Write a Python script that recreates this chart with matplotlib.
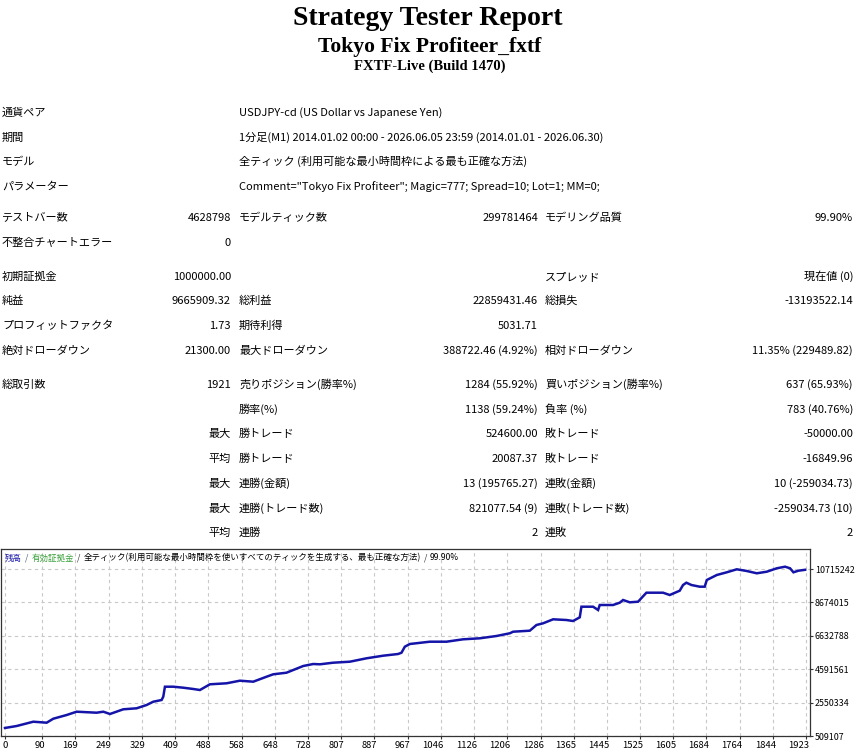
import matplotlib
matplotlib.use("Agg")
import matplotlib.pyplot as plt
from matplotlib.transforms import ScaledTranslation

plt.rcParams['font.family'] = ['Noto Sans CJK JP', 'DejaVu Sans']

W, H = 856, 754

# ---- header ----
title = "Strategy Tester Report"
ea_name = "Tokyo Fix Profiteer_fxtf"
server = "FXTF-Live (Build 1470)"

# ---- settings ----
setting_labels = ["通貨ペア", "期間", "モデル", "パラメーター"]
setting_values = [
    "USDJPY-cd (US Dollar vs Japanese Yen)",
    "1分足(M1) 2014.01.02 00:00 - 2026.06.05 23:59 (2014.01.01 - 2026.06.30)",
    "全ティック (利用可能な最小時間枠による最も正確な方法)",
    'Comment="Tokyo Fix Profiteer"; Magic=777; Spread=10; Lot=1; MM=0;',
]

# ---- results (label1, value1, label2, value2, label3, value3) ----
stats_rows = [
    ["テストバー数", "4628798", "モデルティック数", "299781464", "モデリング品質", "99.90%"],
    ["不整合チャートエラー", "0", "", "", "", ""],
    ["初期証拠金", "1000000.00", "", "", "スプレッド", "現在値 (0)"],
    ["純益", "9665909.32", "総利益", "22859431.46", "総損失", "-13193522.14"],
    ["プロフィットファクタ", "1.73", "期待利得", "5031.71", "", ""],
    ["絶対ドローダウン", "21300.00", "最大ドローダウン", "388722.46 (4.92%)", "相対ドローダウン", "11.35% (229489.82)"],
    ["総取引数", "1921", "売りポジション(勝率%)", "1284 (55.92%)", "買いポジション(勝率%)", "637 (65.93%)"],
    ["", "", "勝率(%)", "1138 (59.24%)", "負率 (%)", "783 (40.76%)"],
    ["", "最大", "勝トレード", "524600.00", "敗トレード", "-50000.00"],
    ["", "平均", "勝トレード", "20087.37", "敗トレード", "-16849.96"],
    ["", "最大", "連勝(金額)", "13 (195765.27)", "連敗(金額)", "10 (-259034.73)"],
    ["", "最大", "連勝(トレード数)", "821077.54 (9)", "連敗(トレード数)", "-259034.73 (10)"],
    ["", "平均", "連勝", "2", "連敗", "2"],
]

# ---- balance curve (trade number, balance) ----
trades = [0, 28, 68, 100, 116, 148, 172, 220, 236, 252, 284, 316, 340, 356, 376,
          380, 384, 404, 428, 452, 468, 492, 532, 564, 596, 628, 644, 676, 716,
          740, 756, 788, 828, 868, 908, 944, 952, 960, 972, 1020, 1060, 1100,
          1140, 1180, 1212, 1220, 1260, 1276, 1292, 1316, 1348, 1364, 1380,
          1384, 1412, 1424, 1428, 1460, 1476, 1484, 1500, 1520, 1540, 1580,
          1596, 1620, 1628, 1636, 1648, 1668, 1680, 1685, 1709, 1733, 1757,
          1781, 1805, 1829, 1853, 1873, 1885, 1893, 1905, 1921]
balance = [1000000, 1120000, 1383000, 1322000, 1566000, 1792000, 1994000,
           1933000, 1994000, 1854000, 2141000, 2202000, 2404000, 2605000,
           2709000, 2911000, 3522000, 3522000, 3461000, 3382000, 3320000,
           3669000, 3730000, 3889000, 3828000, 4133000, 4280000, 4378000,
           4787000, 4909000, 4891000, 4989000, 5050000, 5258000, 5417000,
           5521000, 5600000, 5967000, 6132000, 6272000, 6272000, 6419000,
           6480000, 6621000, 6786000, 6883000, 6945000, 7293000, 7397000,
           7641000, 7598000, 7537000, 7763000, 8411000, 8411000, 8210000,
           8515000, 8515000, 8656000, 8821000, 8680000, 8717000, 9267000,
           9267000, 9126000, 9389000, 9738000, 9878000, 9738000, 9634000,
           9634000, 10043000, 10349000, 10514000, 10697000, 10593000, 10453000,
           10550000, 10758000, 10856000, 10758000, 10514000, 10611000, 10665909]

x_ticks = [0, 90, 169, 249, 329, 409, 488, 568, 648, 728, 807, 887, 967, 1046,
           1126, 1206, 1286, 1365, 1445, 1525, 1605, 1684, 1764, 1844, 1923]
y_ticks = [509107, 2550334, 4591561, 6632788, 8674015, 10715242]

legend_parts = [("残高", "#1a1aa8"), ("/", "#406060"), ("有効証拠金", "#3aa03a"),
                ("/", "#303030"),
                ("全ティック(利用可能な最小時間枠を使いすべてのティックを生成する、最も正確な方法)", "#000000"),
                ("/", "#303030"), ("99.90%", "#000000")]

fig = plt.figure(figsize=(W / 100, H / 100), dpi=100)
fig.patch.set_facecolor("white")


def fx(x):
    return x / W


def fy(y):
    return 1 - y / H


serif = ["Liberation Serif", "DejaVu Serif"]
fig.text(fx(428), fy(25), title, family=serif, weight="bold", fontsize=20,
         ha="center", va="baseline")
fig.text(fx(430), fy(52), ea_name, family=serif, weight="bold", fontsize=15.6,
         ha="center", va="baseline")
fig.text(fx(430), fy(70), server, family=serif, weight="bold", fontsize=10.5,
         ha="center", va="baseline")

fs = 8
setting_y = [112, 137, 161, 186]
for lab, val, y in zip(setting_labels, setting_values, setting_y):
    fig.text(fx(2), fy(y + 4), lab, fontsize=fs, ha="left", va="baseline")
    fig.text(fx(239), fy(y + 4), val, fontsize=fs, ha="left", va="baseline")

stats_y = [217, 242, 276, 300, 325, 350, 384, 409, 433, 458, 483, 508, 532]
col_x = [2, 231, 239, 538, 545, 853]
col_ha = ["left", "right", "left", "right", "left", "right"]
for row, y in zip(stats_rows, stats_y):
    for s, x, ha in zip(row, col_x, col_ha):
        if s:
            fig.text(fx(x), fy(y + 4), s, fontsize=fs, ha=ha, va="baseline")

# ---- chart ----
ax = fig.add_axes([fx(1), 18 / H, 809 / W, 187 / H])
ax.plot(trades, balance, color="#1414a8", lw=1.8, solid_joinstyle="miter")
ax.set_xlim(-9.6, 1932.8)
ax.set_ylim(509107, 11937600)
ax.set_xticks(x_ticks)
ax.set_xticklabels([str(v) for v in x_ticks], ha="right")
ax.set_yticks(y_ticks)
ax.set_yticklabels([str(v) for v in y_ticks])
ax.yaxis.tick_right()
ax.tick_params(axis="x", length=2, pad=1.5, labelsize=6.8, color="#333333")
ax.tick_params(axis="y", length=2.5, pad=1, labelsize=6.4, color="#333333")
off = ScaledTranslation(0.03, 0, fig.dpi_scale_trans)
for lab in ax.get_xticklabels():
    lab.set_transform(lab.get_transform() + off)
ax.grid(True, color="#c8c8c8", lw=0.8, linestyle=(0, (3, 3)))
ax.set_axisbelow(True)
for sp in ax.spines.values():
    sp.set_color("#333333")
    sp.set_linewidth(0.9)

fig.canvas.draw()
r = fig.canvas.get_renderer()
x = 5
for s, c in legend_parts:
    if s == "/":
        x += 3
    t = fig.text(fx(x), fy(558), s, color=c, fontsize=6.1, ha="left", va="center")
    x += t.get_window_extent(renderer=r).width
    if s == "/":
        x += 3

fig.savefig("out.png", dpi=100)
